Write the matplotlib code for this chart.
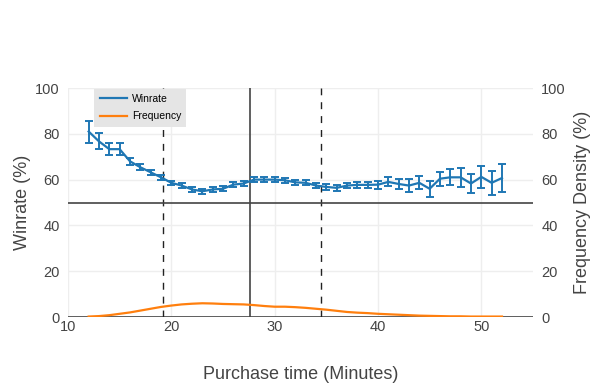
import numpy as np
import matplotlib
matplotlib.use("Agg")
import matplotlib.pyplot as plt
from matplotlib.lines import Line2D

plt.rcParams["font.family"] = ["Liberation Sans", "DejaVu Sans"]

# purchase time in minutes
minutes = list(range(12, 53))

winrate = [81.0, 76.7, 73.3, 73.3, 68.0, 65.4, 63.2, 61.0, 58.6, 57.4,
           55.7, 54.9, 55.7, 56.0, 57.8, 58.3, 60.0, 60.0, 60.0, 59.7,
           58.8, 58.6, 57.4, 56.8, 56.4, 57.4, 57.7, 57.7, 57.8, 59.0,
           58.1, 57.4, 58.6, 56.0, 60.4, 61.0, 61.0, 58.3, 61.2, 58.6,
           60.7]
winrate_err = [4.8, 3.5, 2.5, 2.5, 1.6, 1.4, 1.2, 1.1, 1.0, 1.0,
               1.0, 1.0, 1.0, 1.0, 1.0, 1.0, 1.0, 1.0, 1.0, 1.0,
               1.0, 1.1, 1.1, 1.2, 1.2, 1.2, 1.3, 1.4, 1.8, 2.0,
               2.2, 2.7, 2.9, 3.4, 3.0, 3.5, 4.1, 4.1, 4.8, 5.3,
               6.0]

frequency = [0.2, 0.4, 0.8, 1.4, 2.0, 2.8, 3.6, 4.4, 5.0, 5.5,
             5.8, 6.0, 5.9, 5.7, 5.6, 5.5, 5.2, 4.8, 4.5, 4.5,
             4.3, 4.0, 3.6, 3.2, 2.7, 2.2, 1.9, 1.7, 1.4, 1.2,
             1.0, 0.8, 0.6, 0.5, 0.4, 0.3, 0.3, 0.2, 0.2, 0.2,
             0.2]

median_time = 27.6
quartiles = [19.2, 34.5]
baseline = 50

BLUE = "#1f77b4"
ORANGE = "#ff7f0e"
GRID = "#eeeeee"
TXT = "#444444"

fig = plt.figure(figsize=(6, 3.85), dpi=100)
ax = fig.add_axes([0.1133, 0.1766, 0.775, 0.5948])
ax2 = ax.twinx()

for a in (ax, ax2):
    for s in a.spines.values():
        s.set_visible(False)
    a.set_ylim(0, 100)
    a.set_yticks([0, 20, 40, 60, 80, 100])
    a.tick_params(length=0, labelsize=10.5, colors=TXT, pad=6)

ax.set_xlim(10, 55)
ax.set_xticks([10, 20, 30, 40, 50])
ax.tick_params(axis="x", pad=2)
ax.grid(True, color=GRID, linewidth=1)
ax.set_axisbelow(True)
ax.axhline(0, color=TXT, linewidth=1.2, zorder=1)

ax.errorbar(minutes, winrate, yerr=winrate_err, color=BLUE, linewidth=1.6,
            elinewidth=1.4, capsize=3, capthick=1.4, zorder=4)
ax2.plot(minutes, frequency, color=ORANGE, linewidth=1.6, zorder=4)

ax.axvline(median_time, color=TXT, linewidth=1.2, zorder=3)
for q in quartiles:
    ax.axvline(q, color="#222222", linewidth=1.0, linestyle=(0, (5, 5)), zorder=3)
ax.axhline(baseline, color=TXT, linewidth=1.2, zorder=3)

ax.set_xlabel("Purchase time (Minutes)", fontsize=13, color=TXT, labelpad=23)
ax.set_ylabel("Winrate (%)", fontsize=13, color=TXT, labelpad=3)
ax2.set_ylabel("Frequency Density (%)", fontsize=13, color=TXT, labelpad=6)

handles = [Line2D([], [], color=BLUE, linewidth=1.6),
           Line2D([], [], color=ORANGE, linewidth=1.6)]
leg = ax2.legend(handles, ["Winrate", "Frequency"], loc="upper left",
                 bbox_to_anchor=(0.05, 1.01), fontsize=7.5, frameon=True,
                 fancybox=False, handlelength=2.6, borderpad=0.5,
                 labelspacing=0.7, handletextpad=0.5, borderaxespad=0.3)
leg.get_frame().set_facecolor("#e5e5e5")
leg.get_frame().set_edgecolor("none")
leg.get_frame().set_alpha(1)

fig.savefig("out.png", dpi=100)
